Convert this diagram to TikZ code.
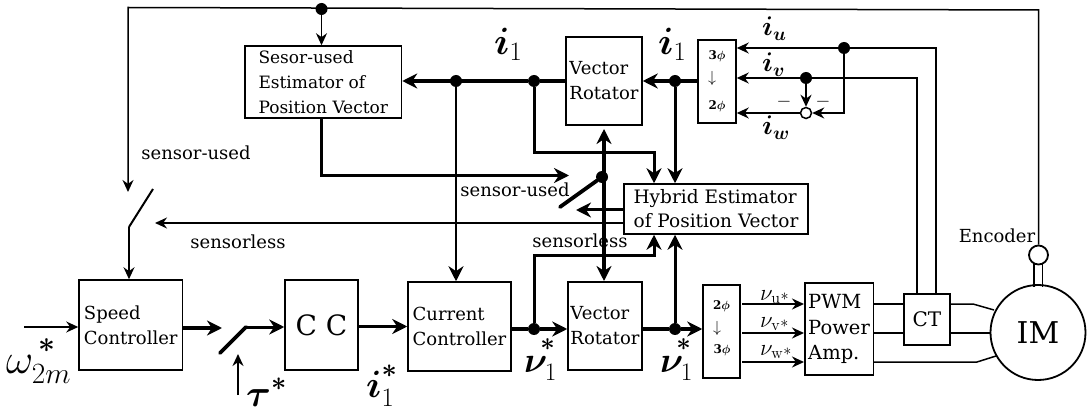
\RequirePackage{fix-cm}
\documentclass[tikz,border=0pt]{standalone}
\usepackage[no-math]{fontspec}
\setmainfont{DejaVu Serif}
\usetikzlibrary{arrows.meta}
\DeclareSymbolFont{bletters}{OML}{cmm}{b}{it}
\DeclareSymbolFont{bsym}{OMS}{cmsy}{b}{n}
\DeclareMathSymbol{\bfi}{\mathalpha}{bletters}{`i}
\DeclareMathSymbol{\bfu}{\mathalpha}{bletters}{`u}
\DeclareMathSymbol{\bfv}{\mathalpha}{bletters}{`v}
\DeclareMathSymbol{\bfw}{\mathalpha}{bletters}{`w}
\DeclareMathSymbol{\bftau}{\mathalpha}{bletters}{"1C}
\DeclareMathSymbol{\bfnu}{\mathalpha}{bletters}{"17}
\DeclareMathSymbol{\bfphi}{\mathalpha}{bletters}{"1E}
\DeclareMathSymbol{\bfast}{\mathalpha}{bsym}{"03}
\newcommand{\hstar}[1]{\raisebox{#1}{$\scriptstyle\bfast$}}
\tikzset{
  x=1pt,y=-1pt,
  blockbox/.style={draw=black,line width=1.5pt,fill=none,inner sep=0pt,align=left,font=\fontsize{18}{25}\selectfont},
  thin line/.style={draw=black,line width=1.5pt},
  thin arrow/.style={thin line,-{Stealth[length=12pt,width=11pt]}},
  fat line/.style={draw=black,line width=3.8pt},
  fat arrow/.style={fat line,-{Stealth[length=15pt,width=15pt]}},
  fat both/.style={fat line,{Stealth[length=15pt,width=15pt]}-{Stealth[length=15pt,width=15pt]}},
  dot/.style={circle,fill=black,inner sep=0pt,minimum size=12pt},
  plain/.style={inner sep=0pt,font=\fontsize{18}{22}\selectfont},
  big/.style={inner sep=0pt,anchor=base west},
}
\begin{document}
\begin{tikzpicture}
\useasboundingbox (0,0) rectangle (1090,414);
% blocks
\node[blockbox,minimum width=156.5pt,minimum height=72pt,font=\fontsize{17}{25}\selectfont] (sens) at (323.25,82) {Sesor-used\\Estimator of\\Position Vector};
\node[blockbox,minimum width=76pt,minimum height=88pt] (vrt) at (604,81) {Vector\\Rotator};
\node[blockbox,minimum width=38pt,minimum height=83pt] (p32) at (717,81.5) {};
\node[blockbox,minimum width=184pt,minimum height=50pt,font=\fontsize{18.5}{24}\selectfont] (hyb) at (716,209) {Hybrid Estimator\\of Position Vector};
\node[blockbox,minimum width=103.5pt,minimum height=90pt] (spd) at (130.75,325) {Speed\\Controller};
\node[blockbox,minimum width=73pt,minimum height=90pt,font=\fontsize{28}{30}\selectfont] (cc) at (321.5,325) {C C};
\node[blockbox,minimum width=103pt,minimum height=89pt] (cur) at (459.5,326.5) {Current\\Controller};
\node[blockbox,minimum width=74pt,minimum height=88pt] (vrb) at (605,326) {Vector\\Rotator};
\node[blockbox,minimum width=37pt,minimum height=93pt] (p23) at (721.5,331.5) {};
\node[blockbox,minimum width=68.5pt,minimum height=92pt,font=\fontsize{19.5}{25.5}\selectfont] (pwm) at (839,329) {PWM\\Power\\Amp.};
\node[blockbox,minimum width=46pt,minimum height=51pt,font=\fontsize{20}{24}\selectfont] (ct) at (927,319.5) {CT};
\node[draw=black,line width=1.8pt,circle,minimum size=95pt,inner sep=0pt,font=\fontsize{30}{36}\selectfont] (im) at (1038,332.5) {IM};
\node[draw=black,line width=1.8pt,circle,minimum size=19pt,inner sep=0pt] (enc) at (1038.5,255) {};
\node[draw=black,line width=1.5pt,circle,minimum size=11pt,inner sep=0pt] (sum) at (806,113) {};
% junctions
\node[dot] (jtop) at (321.5,9) {};
\node[dot] (ja) at (456,81) {};
\node[dot] (jb) at (534,81) {};
\node[dot] (jc) at (675,81) {};
\node[dot] (ju) at (844,48) {};
\node[dot] (jv) at (806,78) {};
\node[dot] (jsw) at (602,177) {};
\node[dot] (jd) at (534,329) {};
\node[dot] (je) at (675,329) {};
% free ends
\coordinate (tr) at (1038.5,10);
\coordinate (tl) at (128,7.5);
\coordinate (fbtip) at (128,192);
\coordinate (swt) at (153,189);
\coordinate (swb) at (129,227);
\coordinate (usedtip) at (569,175.5);
\coordinate (usedcorner) at (321.5,175.5);
\coordinate (swtipb) at (560,207);
\coordinate (hybtip) at (576,210);
\coordinate (lesstip) at (155,223);
\coordinate (cr1) at (534,153);
\coordinate (cr2) at (654,153);
\coordinate (cr3) at (534,256);
\coordinate (cr4) at (654,256);
\coordinate (omstart) at (24,327);
\coordinate (spdtip) at (222,328);
\coordinate (ts1) at (220,353);
\coordinate (ts2) at (246,327);
\coordinate (taub) at (238,395);
\coordinate (taut) at (238,354);
\coordinate (iuc) at (936,48);
\coordinate (ivc) at (917,78);
\coordinate (ucorner) at (844,113);
% top feedback
\draw[thin arrow] (enc.north) -- (tr) -- (tl) -- (fbtip);
\draw[thin arrow] (jtop) -- (sens.north -| jtop);
\draw[thin line,line width=2pt] (swt) -- (swb);
\draw[thin arrow] (swb) -- (swb |- spd.north);
% current rail
\draw[fat line] (vrt.west |- jb) -- (jb);
\draw[fat arrow] (jb) -- (sens.east |- jb);
\draw[fat arrow,line width=2.8pt] (ja) -- (ja |- cur.north);
\draw[fat arrow,line width=3pt] (jb) -- (cr1) -- (cr2) -- (cr2 |- hyb.north);
\draw[fat arrow] (p32.west |- jc) -- (vrt.east |- jc);
\draw[fat arrow,line width=3pt] (jc) -- (jc |- hyb.north);
% centre switch
\draw[fat both] (604,129) -- (604,281);
\draw[fat line,line cap=round] (jsw) -- (swtipb);
\draw[fat arrow] (sens.south -| usedcorner) -- (usedcorner) -- (usedtip);
\draw[fat arrow,line width=3pt] (hyb.west |- hybtip) -- (hybtip);
\draw[thin arrow] (hyb.west |- lesstip) -- (lesstip);
% forward path
\draw[thin arrow] (omstart) -- (spd.west |- omstart);
\draw[fat arrow] (spd.east |- spdtip) -- (spdtip);
\draw[fat line,line cap=round] (ts1) -- (ts2);
\draw[fat arrow,line width=3pt] (ts2) -- (cc.west |- ts2);
\draw[thin arrow,line width=2.2pt] (taub) -- (taut);
\draw[fat arrow] (cc.east |- cur.west) -- (cur.west);
\draw[fat line] (cur.east |- jd) -- (jd);
\draw[fat arrow] (jd) -- (vrb.west |- jd);
\draw[fat arrow,line width=3pt] (jd) -- (cr3) -- (cr4) -- (cr4 |- hyb.south);
\draw[fat line] (vrb.east |- je) -- (je);
\draw[fat arrow] (je) -- (p23.west |- je);
\draw[fat arrow,line width=3pt] (je) -- (je |- hyb.south);
% phase signals
\coordinate (vs1) at (742,304);
\coordinate (vs2) at (742,333);
\coordinate (vs3) at (742,362);
\draw[thin arrow] (vs1) -- (pwm.west |- vs1);
\draw[thin arrow] (vs2) -- (pwm.west |- vs2);
\draw[thin arrow] (vs3) -- (pwm.west |- vs3);
\draw[thin line] (pwm.east |- vs1) -- (ct.west |- vs1);
\draw[thin line] (pwm.east |- vs2) -- (ct.west |- vs2);
\draw[thin line] (ct.east |- vs1) -- (973,304) -- (994,310);
\draw[thin line] (ct.east |- vs2) -- (im.west |- vs2);
\draw[thin line] (pwm.east |- vs3) -- (977,362) -- (996,356);
\draw[thin line] (1034,263) -- (1034,287);
\draw[thin line] (1042.5,263) -- (1042.5,287);
% current sensing
\draw[thin line] (ct.north -| iuc) -- (iuc) -- (ju);
\draw[thin arrow] (ju) -- (p32.east |- ju);
\draw[thin line] (ct.north -| ivc) -- (ivc) -- (jv);
\draw[thin arrow] (jv) -- (p32.east |- jv);
\draw[thin arrow,line width=2.2pt] (jv) -- (sum.north);
\draw[thin arrow] (ju) -- (ucorner) -- (sum.east);
\draw[thin arrow] (sum.west) -- (p32.east |- sum);
% labels
\node[plain] (lbsu) at (196,153) {sensor-used};
\node[plain] (lbsl) at (238,242) {sensorless};
\node[plain] (lbsu2) at (515,190) {sensor-used};
\node[plain] (lbsl2) at (580,241) {sensorless};
\node[plain] (lbenc) at (997,236) {Encoder};
\node[plain,font=\fontsize{19}{19}\selectfont] (m1) at (784,102) {$-$};
\node[plain,font=\fontsize{19}{19}\selectfont] (m2) at (823,102) {$-$};
% small phase labels
\node[plain,font=\fontsize{12}{12}\selectfont] (pa) at (717,56) {\textbf{3}$\bfphi$};
\node[plain,font=\fontsize{16}{16}\selectfont] (pb) at (712,79) {$\downarrow$};
\node[plain,font=\fontsize{12}{12}\selectfont] (pc) at (717,106) {\textbf{2}$\bfphi$};
\node[plain,font=\fontsize{12}{12}\selectfont] (pd) at (721.5,306) {\textbf{2}$\bfphi$};
\node[plain,font=\fontsize{16}{16}\selectfont] (pe) at (717,328) {$\downarrow$};
\node[plain,font=\fontsize{12}{12}\selectfont] (pf) at (722,350) {\textbf{3}$\bfphi$};
% math labels
\node[big,font=\fontsize{27}{27}\selectfont] (liu) at (762,36) {$\bfi_{\bfu}$};
\node[big,font=\fontsize{27}{27}\selectfont] (liv) at (762,72) {$\bfi_{\bfv}$};
\node[big,font=\fontsize{27}{27}\selectfont] (liw) at (762,135) {$\bfi_{\bfw}$};
\node[big,font=\fontsize{23}{23}\selectfont] (lvu) at (760,300) {$\nu_{\mathrm{u}}{\scriptstyle *}$};
\node[big,font=\fontsize{23}{23}\selectfont] (lvv) at (760,327) {$\nu_{\mathrm{v}}{\scriptstyle *}$};
\node[big,font=\fontsize{23}{23}\selectfont] (lvw) at (760,355) {$\nu_{\mathrm{w}}{\scriptstyle *}$};
\node[big,font=\fontsize{38}{38}\selectfont] (li1a) at (494,55) {$\bfi_1$};
\node[big,font=\fontsize{38}{38}\selectfont] (li1b) at (658,55) {$\bfi_1$};
\node[big,font=\fontsize{42}{42}\selectfont] (lom) at (6,373) {$\omega^{\kern5pt\hstar{5pt}}_{2m}$};
\node[big,font=\fontsize{38}{38}\selectfont] (ltau) at (246,406) {$\bftau^{\hstar{2pt}}$};
\node[big,font=\fontsize{38}{38}\selectfont] (li1s) at (366,397) {$\bfi^{\hstar{6pt}}_1$};
\node[big,font=\fontsize{36}{36}\selectfont] (lv1a) at (524,372) {$\bfnu^{\kern-7pt\hstar{8pt}}_1$};
\node[big,font=\fontsize{36}{36}\selectfont] (lv1b) at (660,372) {$\bfnu^{\kern-7pt\hstar{8pt}}_1$};
\end{tikzpicture}
\end{document}
